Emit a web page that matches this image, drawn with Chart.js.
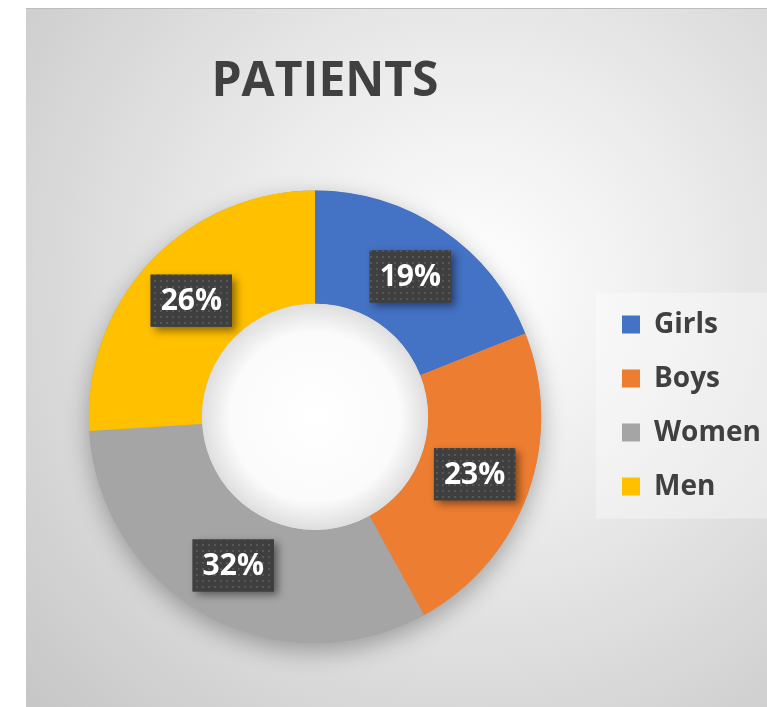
<!DOCTYPE html>
<html>
<head>
<meta charset="utf-8">
<script src="https://cdn.jsdelivr.net/npm/chart.js@4.4.0/dist/chart.umd.min.js"></script>
<style>
  html, body { margin: 0; padding: 0; background: #fff; }
  #wrap {
    position: absolute; left: 26px; top: 8px; width: 741px; height: 699px;
    background: radial-gradient(circle farthest-corner at 60% 40%, #ffffff 0%, #ededed 35%, #c6c6c6 100%);
    box-shadow: inset 0 1px 0 #bdbdbd;
  }
</style>
</head>
<body>
<div id="wrap"><canvas id="patientChart" width="741" height="699"></canvas></div>
<script>
const categories = ['Girls', 'Boys', 'Women', 'Men'];
const shares = [19, 23, 32, 26];
const colours = ['#4472C4', '#ED7D31', '#A5A5A5', '#FFC000'];

const FONT = "'Open Sans', 'DejaVu Sans', sans-serif";

// soft shadow under the ring + faint legend panel
const ringShadow = {
    id: 'ringShadow',
    afterLayout(chart) {
        // title sits a little right of the ring centre in the original
        const t = chart.titleBlock;
        if (t) { t.left += 10; t.right += 10; }
    },
    beforeDraw(chart) {
        const lg = chart.legend;
        if (!lg || !lg.legendHitBoxes || !lg.legendHitBoxes.length) return;
        const hb = lg.legendHitBoxes;
        const top = hb[0].top - 18;
        const bottom = hb[hb.length - 1].top + hb[hb.length - 1].height + 18;
        const ctx = chart.ctx;
        ctx.save();
        ctx.fillStyle = 'rgba(255,255,255,0.35)';
        ctx.fillRect(lg.left, top, lg.right - lg.left, bottom - top);
        ctx.restore();
    },
    beforeDatasetsDraw(chart) {
        const arc = chart.getDatasetMeta(0).data[0];
        if (!arc) return;
        const ctx = chart.ctx;
        ctx.save();
        ctx.shadowColor = 'rgba(0,0,0,0.3)';
        ctx.shadowBlur = 24;
        ctx.shadowOffsetY = 8;
        ctx.fillStyle = '#a0a0a0';
        ctx.beginPath();
        ctx.arc(arc.x, arc.y, arc.outerRadius, 0, Math.PI * 2);
        ctx.arc(arc.x, arc.y, arc.innerRadius, 0, Math.PI * 2, true);
        ctx.fill();
        ctx.restore();
    }
};

let dotPattern = null;
function getPattern(ctx) {
    if (dotPattern) return dotPattern;
    const c = document.createElement('canvas');
    c.width = 6; c.height = 6;
    const p = c.getContext('2d');
    p.fillStyle = '#3f3f3f';
    p.fillRect(0, 0, 6, 6);
    p.fillStyle = '#575757';
    p.fillRect(2, 2, 2, 2);
    dotPattern = ctx.createPattern(c, 'repeat');
    return dotPattern;
}

// hole shading and the dark percentage boxes
const pctBoxes = {
    id: 'pctBoxes',
    afterDatasetsDraw(chart) {
        const ctx = chart.ctx;
        const meta = chart.getDatasetMeta(0);
        const first = meta.data[0];
        if (!first) return;

        const r = first.innerRadius;
        const g = ctx.createRadialGradient(first.x, first.y, 0, first.x, first.y, r);
        g.addColorStop(0, '#ffffff');
        g.addColorStop(0.75, '#fbfbfb');
        g.addColorStop(1, '#dedede');
        ctx.save();
        ctx.fillStyle = g;
        ctx.beginPath();
        ctx.arc(first.x, first.y, r, 0, Math.PI * 2);
        ctx.fill();
        ctx.restore();

        const total = shares.reduce((a, b) => a + b, 0);
        ctx.save();
        ctx.font = 'bold 30px ' + FONT;
        ctx.textAlign = 'center';
        ctx.textBaseline = 'middle';
        meta.data.forEach((arc, i) => {
            const pos = arc.tooltipPosition();
            const text = Math.round(shares[i] / total * 100) + '%';
            const w = ctx.measureText(text).width + 20;
            const h = 52;
            const x = pos.x - w / 2;
            const y = pos.y - h / 2;
            ctx.save();
            ctx.shadowColor = 'rgba(0,0,0,0.45)';
            ctx.shadowBlur = 8;
            ctx.shadowOffsetX = 4;
            ctx.shadowOffsetY = 4;
            ctx.fillStyle = '#3f3f3f';
            ctx.fillRect(x, y, w, h);
            ctx.restore();
            ctx.fillStyle = getPattern(ctx);
            ctx.fillRect(x, y, w, h);
            ctx.fillStyle = '#ffffff';
            ctx.fillText(text, pos.x, pos.y + 1);
        });
        ctx.restore();
    }
};

new Chart(document.getElementById('patientChart'), {
    type: 'doughnut',
    data: {
        labels: categories,
        datasets: [{
            data: shares,
            backgroundColor: colours,
            borderWidth: 0,
        }]
    },
    options: {
        responsive: false,
        animation: false,
        cutout: '50%',
        layout: {
            padding: { left: 8, right: 0, top: 0, bottom: 64 }
        },
        plugins: {
            tooltip: { enabled: false },
            title: {
                display: true,
                text: 'PATIENTS',
                color: '#404040',
                fullSize: false,
                font: { family: FONT, size: 48, weight: 'bold' },
                padding: { top: 46, bottom: 79 },
            },
            legend: {
                position: 'right',
                fullSize: false,
                align: 'start',
                maxWidth: 171,
                title: {
                    display: true,
                    text: '',
                    font: { size: 10, lineHeight: 1 },
                    padding: { top: 84, bottom: 0 },
                },
                labels: {
                    boxWidth: 18,
                    boxHeight: 18,
                    padding: 26,
                    color: '#404040',
                    font: { family: FONT, size: 28, weight: 'bold' },
                },
            },
        },
    },
    plugins: [ringShadow, pctBoxes],
});
</script>
</body>
</html>
